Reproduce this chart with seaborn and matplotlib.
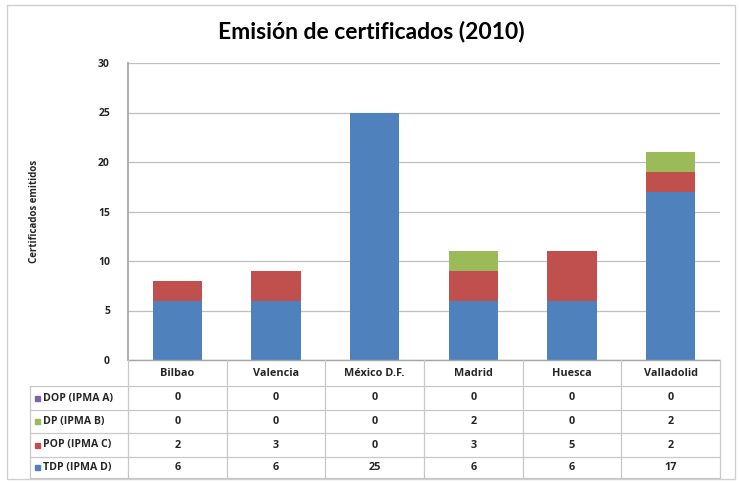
import numpy as np
import pandas as pd
import matplotlib
matplotlib.use("Agg")
import matplotlib.pyplot as plt
import seaborn as sns

# Chart data
cities = ["Bilbao", "Valencia", "México D.F.", "Madrid", "Huesca", "Valladolid"]
series_names = ["DOP (IPMA A)", "DP (IPMA B)", "POP (IPMA C)", "TDP (IPMA D)"]
dop_a = [0, 0, 0, 0, 0, 0]
dp_b = [0, 0, 0, 2, 0, 2]
pop_c = [2, 3, 0, 3, 5, 2]
tdp_d = [6, 6, 25, 6, 6, 17]
y_ticks = [0, 5, 10, 15, 20, 25, 30]

colors = {"DOP (IPMA A)": "#8064A2", "DP (IPMA B)": "#9BBB59",
          "POP (IPMA C)": "#C0504D", "TDP (IPMA D)": "#4F81BD"}

sns.set_theme(style="white")
plt.rcParams["font.family"] = ["Lato", "DejaVu Sans"]
small = ["Open Sans", "DejaVu Sans"]

W, H = 739, 482
fig = plt.figure(figsize=(W / 100, H / 100), dpi=100)

# pixel layout of the plot area
left, right, top, bottom = 128, 720, 63, 360
ax = fig.add_axes([left / W, (H - bottom) / H, (right - left) / W, (bottom - top) / H])

df = pd.DataFrame({"city": cities, "DOP (IPMA A)": dop_a, "DP (IPMA B)": dp_b,
                   "POP (IPMA C)": pop_c, "TDP (IPMA D)": tdp_d})

# stack bottom to top: TDP, POP, DP, DOP -> draw the biggest cumulative first
stack_order = ["TDP (IPMA D)", "POP (IPMA C)", "DP (IPMA B)", "DOP (IPMA A)"]
cum = df[stack_order].cumsum(axis=1)
for name in reversed(stack_order):
    sns.barplot(x=df["city"], y=cum[name], color=colors[name], width=0.5,
                saturation=1, ax=ax, order=cities, linewidth=0, edgecolor="none")

ax.set_ylim(0, 30)
ax.set_xlim(-0.5, len(cities) - 0.5)
ax.set_yticks(y_ticks)
ax.set_yticklabels([str(t) for t in y_ticks], fontsize=7.5, fontweight="bold", family=small)
ax.set_xticks([])
ax.set_xlabel("")
ax.set_ylabel("Certificados emitidos", fontsize=7, fontweight="bold", family=small,
              labelpad=42)
ax.set_axisbelow(True)
ax.yaxis.grid(True, color="#BFBFBF", linewidth=0.9)
for s in ["top", "right", "bottom"]:
    ax.spines[s].set_visible(False)
ax.spines["left"].set_color("#A6A6A6")
ax.tick_params(axis="y", length=4, color="#A6A6A6", direction="out", pad=9)

# overlay axes in pixel coordinates for the frame and the data table
ov = fig.add_axes([0, 0, 1, 1])
ov.set_xlim(0, W)
ov.set_ylim(H, 0)
ov.axis("off")
ov.patch.set_alpha(0)

ov.add_patch(plt.Rectangle((7, 5), 728, 474, fill=False, edgecolor="#D0D0D0", linewidth=1))
ov.text(371, 32, "Emisión de certificados (2010)", ha="center", va="center",
        fontsize=16.5, fontweight="bold", color="black")

line_c = "#C8C8C8"
tab_left = 30
row_lines = [386, 410, 433, 457, 478]
cell_w = (right - left) / len(cities)
col_edges = [left + i * cell_w for i in range(len(cities) + 1)]

ov.plot([left, right], [bottom, bottom], color="#A6A6A6", linewidth=1)
for y in row_lines:
    ov.plot([tab_left, right], [y, y], color=line_c, linewidth=0.9)
for x in col_edges:
    ov.plot([x, x], [bottom, row_lines[-1]], color=line_c, linewidth=0.9)
ov.plot([tab_left, tab_left], [row_lines[0], row_lines[-1]], color=line_c, linewidth=0.9)

for i, c in enumerate(cities):
    ov.text(col_edges[i] + cell_w / 2, (bottom + row_lines[0]) / 2, c,
            ha="center", va="center", fontsize=7.8, fontweight="bold", family=small)

table_rows = {"DOP (IPMA A)": dop_a, "DP (IPMA B)": dp_b,
              "POP (IPMA C)": pop_c, "TDP (IPMA D)": tdp_d}
for r, name in enumerate(series_names):
    yc = (row_lines[r] + row_lines[r + 1]) / 2
    ov.add_patch(plt.Rectangle((35, yc - 2.5), 5, 5, color=colors[name]))
    ov.text(43, yc, name, ha="left", va="center", fontsize=7.6, fontweight="bold",
            family=small)
    for i, v in enumerate(table_rows[name]):
        ov.text(col_edges[i] + cell_w / 2, yc, str(v), ha="center", va="center",
                fontsize=7.8, fontweight="bold", family=small)

fig.savefig("out.png", dpi=100)
